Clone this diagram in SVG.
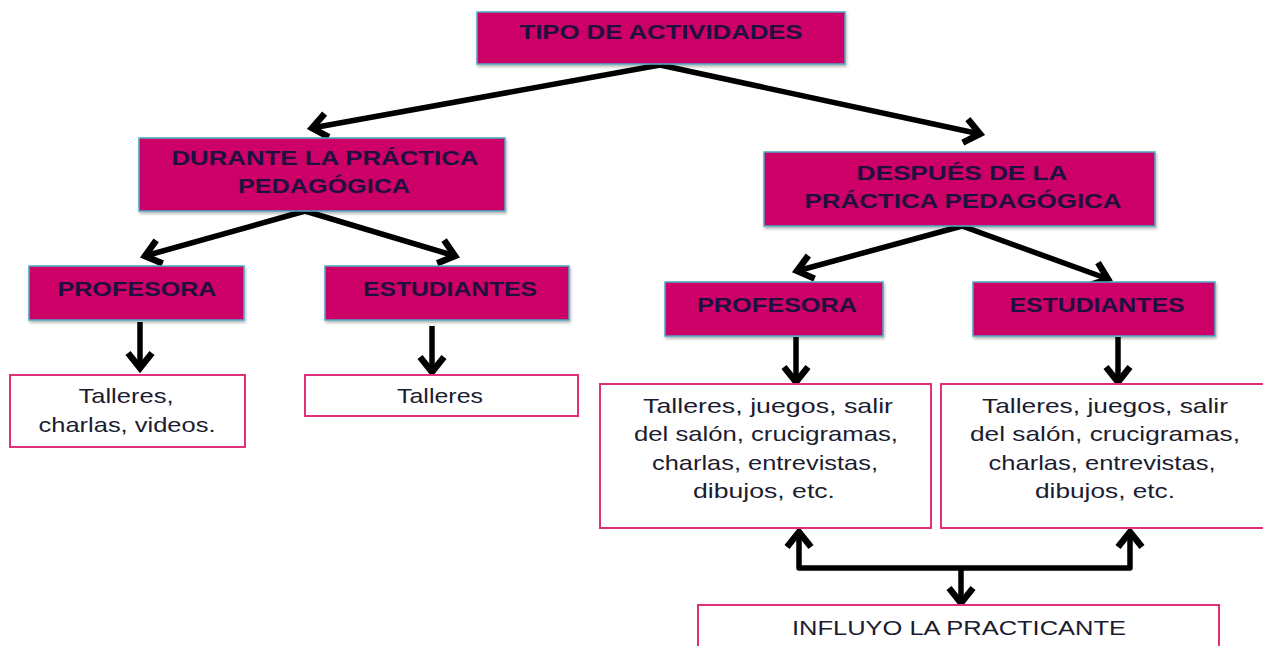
<svg xmlns="http://www.w3.org/2000/svg" width="1263" height="646" viewBox="0 0 1263 646">
<defs>
<style>
.hd{fill:#cc0066;stroke:#4bacc6;stroke-width:1.5}
.bx{fill:#fff;stroke:#e0307a;stroke-width:2}
.ht{font-family:"Liberation Sans",Arial,sans-serif;font-weight:bold;font-size:21px;fill:#1f1040;text-anchor:middle}
.bt{font-family:"Liberation Sans",Arial,sans-serif;font-size:21px;fill:#1c1c30;text-anchor:middle}
.cn{fill:none;stroke:#000;stroke-width:5.5;stroke-linejoin:round}
</style>
<marker id="ah" markerUnits="userSpaceOnUse" markerWidth="40" markerHeight="40" refX="0" refY="0" viewBox="-20 -20 40 40" orient="auto-start-reverse" overflow="visible">
<path d="M-15,-12 L0,0 L-15,12" fill="none" stroke="#000" stroke-width="6.5" stroke-linejoin="miter"/>
</marker>
<filter id="sh" x="-5%" y="-10%" width="110%" height="130%">
<feDropShadow dx="1" dy="2" stdDeviation="1.5" flood-color="#000" flood-opacity="0.3"/>
</filter>
</defs>
<g id="connectors">
<line class="cn" x1="660" y1="65" x2="312" y2="128" marker-end="url(#ah)"/>
<line class="cn" x1="660" y1="65" x2="980" y2="134" marker-end="url(#ah)"/>
<line class="cn" x1="305" y1="211" x2="145" y2="256" marker-end="url(#ah)"/>
<line class="cn" x1="305" y1="211" x2="455" y2="256" marker-end="url(#ah)"/>
<line class="cn" x1="962" y1="226" x2="797" y2="271" marker-end="url(#ah)"/>
<line class="cn" x1="962" y1="226" x2="1108" y2="279" marker-end="url(#ah)"/>
<line class="cn" x1="140" y1="322" x2="140" y2="368" marker-end="url(#ah)"/>
<line class="cn" x1="432" y1="326" x2="432" y2="372" marker-end="url(#ah)"/>
<line class="cn" x1="796" y1="337" x2="796" y2="382" marker-end="url(#ah)"/>
<line class="cn" x1="1118" y1="337" x2="1118" y2="382" marker-end="url(#ah)"/>
<polyline class="cn" points="799,532 799,568 1130,568 1130,532" marker-start="url(#ah)" marker-end="url(#ah)"/>
<line class="cn" x1="961" y1="568" x2="961" y2="603" marker-end="url(#ah)"/>
</g>
<g id="n-tipo">
<rect class="hd" filter="url(#sh)" x="477" y="12" width="368" height="52"/>
<text class="ht" x="661" y="39" textLength="283" lengthAdjust="spacingAndGlyphs">TIPO DE ACTIVIDADES</text>
</g>
<g id="n-durante">
<rect class="hd" filter="url(#sh)" x="139" y="138" width="366" height="73"/>
<text class="ht" x="325" y="165" textLength="307" lengthAdjust="spacingAndGlyphs">DURANTE  LA PRÁCTICA</text>
<text class="ht" x="324" y="193" textLength="172" lengthAdjust="spacingAndGlyphs">PEDAGÓGICA</text>
</g>
<g id="n-despues">
<rect class="hd" filter="url(#sh)" x="764" y="152" width="391" height="74"/>
<text class="ht" x="962" y="180" textLength="211" lengthAdjust="spacingAndGlyphs">DESPUÉS  DE  LA</text>
<text class="ht" x="963" y="208" textLength="317" lengthAdjust="spacingAndGlyphs">PRÁCTICA  PEDAGÓGICA</text>
</g>
<g id="n-prof1">
<rect class="hd" filter="url(#sh)" x="29" y="266" width="215" height="54"/>
<text class="ht" x="137" y="296" textLength="159" lengthAdjust="spacingAndGlyphs">PROFESORA</text>
</g>
<g id="n-est1">
<rect class="hd" filter="url(#sh)" x="325" y="266" width="244" height="54"/>
<text class="ht" x="450" y="296" textLength="174" lengthAdjust="spacingAndGlyphs">ESTUDIANTES</text>
</g>
<g id="n-prof2">
<rect class="hd" filter="url(#sh)" x="665" y="282" width="218" height="54"/>
<text class="ht" x="777" y="312" textLength="160" lengthAdjust="spacingAndGlyphs">PROFESORA</text>
</g>
<g id="n-est2">
<rect class="hd" filter="url(#sh)" x="973" y="282" width="242" height="54"/>
<text class="ht" x="1097" y="312" textLength="175" lengthAdjust="spacingAndGlyphs">ESTUDIANTES</text>
</g>
<g id="n-act1">
<rect class="bx" x="10" y="375" width="235" height="72"/>
<text class="bt" x="126" y="403" textLength="95" lengthAdjust="spacingAndGlyphs">Talleres,</text>
<text class="bt" x="127" y="432" textLength="177" lengthAdjust="spacingAndGlyphs">charlas, videos.</text>
</g>
<g id="n-act2">
<rect class="bx" x="305" y="375" width="273" height="41"/>
<text class="bt" x="440" y="403" textLength="86" lengthAdjust="spacingAndGlyphs">Talleres</text>
</g>
<g id="n-act3">
<rect class="bx" x="600" y="384" width="331" height="144"/>
<text class="bt" x="768" y="413" textLength="250" lengthAdjust="spacingAndGlyphs">Talleres,  juegos,  salir</text>
<text class="bt" x="766" y="441" textLength="264" lengthAdjust="spacingAndGlyphs">del salón, crucigramas,</text>
<text class="bt" x="765" y="470" textLength="226" lengthAdjust="spacingAndGlyphs">charlas, entrevistas,</text>
<text class="bt" x="764" y="498" textLength="142" lengthAdjust="spacingAndGlyphs">dibujos,  etc.</text>
</g>
<g id="n-act4">
<rect class="bx" x="941" y="384" width="330" height="144"/>
<text class="bt" x="1105" y="413" textLength="246" lengthAdjust="spacingAndGlyphs">Talleres,  juegos,  salir</text>
<text class="bt" x="1105" y="441" textLength="270" lengthAdjust="spacingAndGlyphs">del salón, crucigramas,</text>
<text class="bt" x="1102" y="470" textLength="227" lengthAdjust="spacingAndGlyphs">charlas, entrevistas,</text>
<text class="bt" x="1105" y="498" textLength="140" lengthAdjust="spacingAndGlyphs">dibujos,  etc.</text>
</g>
<g id="n-influyo">
<rect class="bx" x="698" y="605" width="521" height="60"/>
<text class="bt" x="959" y="635" textLength="334" lengthAdjust="spacingAndGlyphs">INFLUYO  LA PRACTICANTE</text>
</g>
</svg>
